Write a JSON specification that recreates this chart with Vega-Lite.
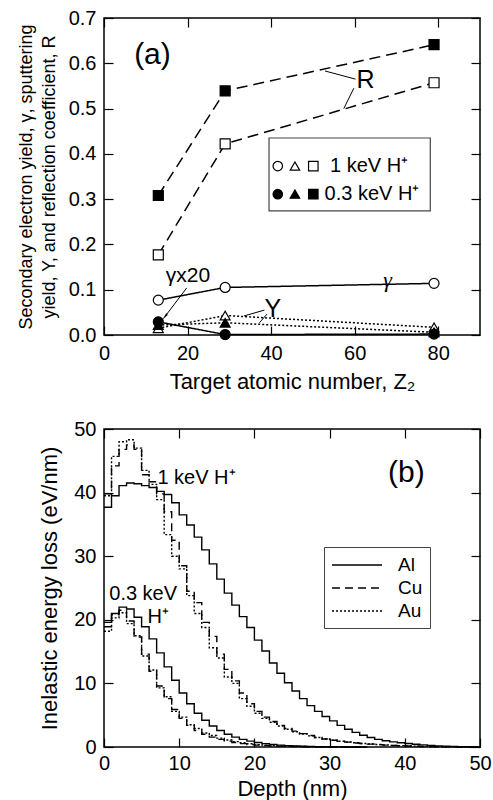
{
  "$schema": "https://vega.github.io/schema/vega-lite/v6.json",
  "padding": {"left": 16, "top": 7, "right": 0, "bottom": 0},
  "spacing": 25,
  "resolve": {"scale": {"strokeDash": "independent", "shape": "independent", "fill": "independent"}, "legend": {"strokeDash": "independent"}},
  "config": {
    "font": "Liberation Sans",
    "view": {"stroke": "black", "strokeWidth": 1.5},
    "axis": {"domain": false, "grid": false, "ticks": true, "tickSize": -9, "tickWidth": 1.2, "tickColor": "black", "labelPadding": 17, "labelFontSize": 20, "labelColor": "black", "labelFont": "Liberation Sans", "labelFlush": false, "labelOverlap": false, "titleFontSize": 22, "titleFontWeight": "normal", "titleColor": "black", "titleFont": "Liberation Sans"}
  },
  "datasets": {
    "a": [
      {"q": "Y", "e": "1 keV", "z": 13, "v": 0.015}, {"q": "Y", "e": "1 keV", "z": 29, "v": 0.043}, {"q": "Y", "e": "1 keV", "z": 79, "v": 0.017},
      {"q": "Y", "e": "0.3 keV", "z": 13, "v": 0.022}, {"q": "Y", "e": "0.3 keV", "z": 29, "v": 0.027}, {"q": "Y", "e": "0.3 keV", "z": 79, "v": 0.006},
      {"q": "R", "e": "1 keV", "z": 13, "v": 0.177}, {"q": "R", "e": "1 keV", "z": 29, "v": 0.422}, {"q": "R", "e": "1 keV", "z": 79, "v": 0.557},
      {"q": "R", "e": "0.3 keV", "z": 13, "v": 0.308}, {"q": "R", "e": "0.3 keV", "z": 29, "v": 0.539}, {"q": "R", "e": "0.3 keV", "z": 79, "v": 0.641},
      {"q": "γ", "e": "1 keV", "z": 13, "v": 0.077}, {"q": "γ", "e": "1 keV", "z": 29, "v": 0.105}, {"q": "γ", "e": "1 keV", "z": 79, "v": 0.114},
      {"q": "γ", "e": "0.3 keV", "z": 13, "v": 0.029}, {"q": "γ", "e": "0.3 keV", "z": 29, "v": 0.001}, {"q": "γ", "e": "0.3 keV", "z": 79, "v": 0.002}
    ],
    "b": [
      {"m":"Al","e":"1","d":0,"v":37.7},{"m":"Al","e":"1","d":1,"v":39.5},{"m":"Al","e":"1","d":2,"v":41.1},{"m":"Al","e":"1","d":3,"v":41.5},{"m":"Al","e":"1","d":4,"v":41.4},{"m":"Al","e":"1","d":5,"v":41.1},{"m":"Al","e":"1","d":6,"v":40.8},{"m":"Al","e":"1","d":7,"v":40.2},{"m":"Al","e":"1","d":8,"v":39.7},{"m":"Al","e":"1","d":9,"v":38.4},
      {"m":"Al","e":"1","d":10,"v":36.5},{"m":"Al","e":"1","d":11,"v":34.9},{"m":"Al","e":"1","d":12,"v":33.0},{"m":"Al","e":"1","d":13,"v":31.0},{"m":"Al","e":"1","d":14,"v":28.8},{"m":"Al","e":"1","d":15,"v":26.4},{"m":"Al","e":"1","d":16,"v":24.2},{"m":"Al","e":"1","d":17,"v":22.3},{"m":"Al","e":"1","d":18,"v":20.5},{"m":"Al","e":"1","d":19,"v":18.8},
      {"m":"Al","e":"1","d":20,"v":16.8},{"m":"Al","e":"1","d":21,"v":15.1},{"m":"Al","e":"1","d":22,"v":13.2},{"m":"Al","e":"1","d":23,"v":11.6},{"m":"Al","e":"1","d":24,"v":10.1},{"m":"Al","e":"1","d":25,"v":8.8},{"m":"Al","e":"1","d":26,"v":7.6},{"m":"Al","e":"1","d":27,"v":6.5},{"m":"Al","e":"1","d":28,"v":5.6},{"m":"Al","e":"1","d":29,"v":4.8},
      {"m":"Al","e":"1","d":30,"v":4.1},{"m":"Al","e":"1","d":31,"v":3.4},{"m":"Al","e":"1","d":32,"v":2.8},{"m":"Al","e":"1","d":33,"v":2.3},{"m":"Al","e":"1","d":34,"v":1.85},{"m":"Al","e":"1","d":35,"v":1.5},{"m":"Al","e":"1","d":36,"v":1.2},{"m":"Al","e":"1","d":37,"v":0.98},{"m":"Al","e":"1","d":38,"v":0.8},{"m":"Al","e":"1","d":39,"v":0.66},
      {"m":"Al","e":"1","d":40,"v":0.54},{"m":"Al","e":"1","d":41,"v":0.43},{"m":"Al","e":"1","d":42,"v":0.33},{"m":"Al","e":"1","d":43,"v":0.25},{"m":"Al","e":"1","d":44,"v":0.18},{"m":"Al","e":"1","d":45,"v":0.12},{"m":"Al","e":"1","d":46,"v":0.08},{"m":"Al","e":"1","d":47,"v":0.05},{"m":"Al","e":"1","d":48,"v":0.03},{"m":"Al","e":"1","d":49,"v":0.02},{"m":"Al","e":"1","d":50,"v":0.02},
      {"m":"Cu","e":"1","d":0,"v":39.8},{"m":"Cu","e":"1","d":1,"v":44.2},{"m":"Cu","e":"1","d":2,"v":46.8},{"m":"Cu","e":"1","d":3,"v":47.5},{"m":"Cu","e":"1","d":4,"v":46.8},{"m":"Cu","e":"1","d":5,"v":42.8},{"m":"Cu","e":"1","d":6,"v":41.7},{"m":"Cu","e":"1","d":7,"v":39.8},{"m":"Cu","e":"1","d":8,"v":37.0},{"m":"Cu","e":"1","d":9,"v":32.5},
      {"m":"Cu","e":"1","d":10,"v":28.5},{"m":"Cu","e":"1","d":11,"v":24.5},{"m":"Cu","e":"1","d":12,"v":22.7},{"m":"Cu","e":"1","d":13,"v":19.6},{"m":"Cu","e":"1","d":14,"v":17.4},{"m":"Cu","e":"1","d":15,"v":14.6},{"m":"Cu","e":"1","d":16,"v":12.2},{"m":"Cu","e":"1","d":17,"v":10.4},{"m":"Cu","e":"1","d":18,"v":8.5},{"m":"Cu","e":"1","d":19,"v":6.8},
      {"m":"Cu","e":"1","d":20,"v":5.6},{"m":"Cu","e":"1","d":21,"v":4.7},{"m":"Cu","e":"1","d":22,"v":4.0},{"m":"Cu","e":"1","d":23,"v":3.4},{"m":"Cu","e":"1","d":24,"v":2.9},{"m":"Cu","e":"1","d":25,"v":2.5},{"m":"Cu","e":"1","d":26,"v":2.1},{"m":"Cu","e":"1","d":27,"v":1.8},{"m":"Cu","e":"1","d":28,"v":1.5},{"m":"Cu","e":"1","d":29,"v":1.25},
      {"m":"Cu","e":"1","d":30,"v":1.05},{"m":"Cu","e":"1","d":31,"v":0.9},{"m":"Cu","e":"1","d":32,"v":0.76},{"m":"Cu","e":"1","d":33,"v":0.64},{"m":"Cu","e":"1","d":34,"v":0.54},{"m":"Cu","e":"1","d":35,"v":0.45},{"m":"Cu","e":"1","d":36,"v":0.37},{"m":"Cu","e":"1","d":37,"v":0.3},{"m":"Cu","e":"1","d":38,"v":0.24},{"m":"Cu","e":"1","d":39,"v":0.19},
      {"m":"Cu","e":"1","d":40,"v":0.15},{"m":"Cu","e":"1","d":41,"v":0.11},{"m":"Cu","e":"1","d":42,"v":0.08},{"m":"Cu","e":"1","d":43,"v":0.06},{"m":"Cu","e":"1","d":44,"v":0.04},{"m":"Cu","e":"1","d":45,"v":0.03},{"m":"Cu","e":"1","d":46,"v":0.02},{"m":"Cu","e":"1","d":47,"v":0.01},{"m":"Cu","e":"1","d":48,"v":0.01},{"m":"Cu","e":"1","d":49,"v":0},{"m":"Cu","e":"1","d":50,"v":0},
      {"m":"Au","e":"1","d":0,"v":39.5},{"m":"Au","e":"1","d":1,"v":45.7},{"m":"Au","e":"1","d":2,"v":48.0},{"m":"Au","e":"1","d":3,"v":48.3},{"m":"Au","e":"1","d":4,"v":47.0},{"m":"Au","e":"1","d":5,"v":43.5},{"m":"Au","e":"1","d":6,"v":41.3},{"m":"Au","e":"1","d":7,"v":38.9},{"m":"Au","e":"1","d":8,"v":33.4},{"m":"Au","e":"1","d":9,"v":30.0},
      {"m":"Au","e":"1","d":10,"v":28.0},{"m":"Au","e":"1","d":11,"v":23.8},{"m":"Au","e":"1","d":12,"v":21.0},{"m":"Au","e":"1","d":13,"v":18.8},{"m":"Au","e":"1","d":14,"v":15.6},{"m":"Au","e":"1","d":15,"v":14.0},{"m":"Au","e":"1","d":16,"v":11.0},{"m":"Au","e":"1","d":17,"v":10.0},{"m":"Au","e":"1","d":18,"v":7.6},{"m":"Au","e":"1","d":19,"v":6.4},
      {"m":"Au","e":"1","d":20,"v":5.3},{"m":"Au","e":"1","d":21,"v":4.5},{"m":"Au","e":"1","d":22,"v":3.9},{"m":"Au","e":"1","d":23,"v":3.3},{"m":"Au","e":"1","d":24,"v":2.8},{"m":"Au","e":"1","d":25,"v":2.4},{"m":"Au","e":"1","d":26,"v":2.05},{"m":"Au","e":"1","d":27,"v":1.75},{"m":"Au","e":"1","d":28,"v":1.5},{"m":"Au","e":"1","d":29,"v":1.25},
      {"m":"Au","e":"1","d":30,"v":1.05},{"m":"Au","e":"1","d":31,"v":0.9},{"m":"Au","e":"1","d":32,"v":0.78},{"m":"Au","e":"1","d":33,"v":0.66},{"m":"Au","e":"1","d":34,"v":0.56},{"m":"Au","e":"1","d":35,"v":0.47},{"m":"Au","e":"1","d":36,"v":0.39},{"m":"Au","e":"1","d":37,"v":0.32},{"m":"Au","e":"1","d":38,"v":0.26},{"m":"Au","e":"1","d":39,"v":0.21},
      {"m":"Au","e":"1","d":40,"v":0.17},{"m":"Au","e":"1","d":41,"v":0.13},{"m":"Au","e":"1","d":42,"v":0.1},{"m":"Au","e":"1","d":43,"v":0.07},{"m":"Au","e":"1","d":44,"v":0.05},{"m":"Au","e":"1","d":45,"v":0.03},{"m":"Au","e":"1","d":46,"v":0.02},{"m":"Au","e":"1","d":47,"v":0.01},{"m":"Au","e":"1","d":48,"v":0.01},{"m":"Au","e":"1","d":49,"v":0},{"m":"Au","e":"1","d":50,"v":0},
      {"m":"Al","e":"0.3","d":0,"v":19.6},{"m":"Al","e":"0.3","d":1,"v":21.0},{"m":"Al","e":"0.3","d":2,"v":22.0},{"m":"Al","e":"0.3","d":3,"v":21.7},{"m":"Al","e":"0.3","d":4,"v":20.4},{"m":"Al","e":"0.3","d":5,"v":18.9},{"m":"Al","e":"0.3","d":6,"v":17.0},{"m":"Al","e":"0.3","d":7,"v":14.8},{"m":"Al","e":"0.3","d":8,"v":12.6},{"m":"Al","e":"0.3","d":9,"v":10.5},
      {"m":"Al","e":"0.3","d":10,"v":8.5},{"m":"Al","e":"0.3","d":11,"v":6.8},{"m":"Al","e":"0.3","d":12,"v":5.3},{"m":"Al","e":"0.3","d":13,"v":4.2},{"m":"Al","e":"0.3","d":14,"v":3.3},{"m":"Al","e":"0.3","d":15,"v":2.6},{"m":"Al","e":"0.3","d":16,"v":2.0},{"m":"Al","e":"0.3","d":17,"v":1.55},{"m":"Al","e":"0.3","d":18,"v":1.2},{"m":"Al","e":"0.3","d":19,"v":0.92},
      {"m":"Al","e":"0.3","d":20,"v":0.7},{"m":"Al","e":"0.3","d":21,"v":0.53},{"m":"Al","e":"0.3","d":22,"v":0.4},{"m":"Al","e":"0.3","d":23,"v":0.3},{"m":"Al","e":"0.3","d":24,"v":0.22},{"m":"Al","e":"0.3","d":25,"v":0.16},{"m":"Al","e":"0.3","d":26,"v":0.12},{"m":"Al","e":"0.3","d":27,"v":0.09},{"m":"Al","e":"0.3","d":28,"v":0.06},{"m":"Al","e":"0.3","d":29,"v":0.04},
      {"m":"Al","e":"0.3","d":30,"v":0.03},{"m":"Al","e":"0.3","d":31,"v":0.02},{"m":"Al","e":"0.3","d":32,"v":0.01},{"m":"Al","e":"0.3","d":33,"v":0.01},{"m":"Al","e":"0.3","d":34,"v":0},{"m":"Al","e":"0.3","d":35,"v":0},
      {"m":"Cu","e":"0.3","d":0,"v":18.9},{"m":"Cu","e":"0.3","d":1,"v":20.8},{"m":"Cu","e":"0.3","d":2,"v":21.5},{"m":"Cu","e":"0.3","d":3,"v":19.8},{"m":"Cu","e":"0.3","d":4,"v":17.3},{"m":"Cu","e":"0.3","d":5,"v":14.6},{"m":"Cu","e":"0.3","d":6,"v":11.9},{"m":"Cu","e":"0.3","d":7,"v":9.6},{"m":"Cu","e":"0.3","d":8,"v":7.6},{"m":"Cu","e":"0.3","d":9,"v":5.9},
      {"m":"Cu","e":"0.3","d":10,"v":4.5},{"m":"Cu","e":"0.3","d":11,"v":3.4},{"m":"Cu","e":"0.3","d":12,"v":2.6},{"m":"Cu","e":"0.3","d":13,"v":2.0},{"m":"Cu","e":"0.3","d":14,"v":1.55},{"m":"Cu","e":"0.3","d":15,"v":1.2},{"m":"Cu","e":"0.3","d":16,"v":0.92},{"m":"Cu","e":"0.3","d":17,"v":0.7},{"m":"Cu","e":"0.3","d":18,"v":0.53},{"m":"Cu","e":"0.3","d":19,"v":0.4},
      {"m":"Cu","e":"0.3","d":20,"v":0.3},{"m":"Cu","e":"0.3","d":21,"v":0.23},{"m":"Cu","e":"0.3","d":22,"v":0.17},{"m":"Cu","e":"0.3","d":23,"v":0.13},{"m":"Cu","e":"0.3","d":24,"v":0.1},{"m":"Cu","e":"0.3","d":25,"v":0.07},{"m":"Cu","e":"0.3","d":26,"v":0.05},{"m":"Cu","e":"0.3","d":27,"v":0.04},{"m":"Cu","e":"0.3","d":28,"v":0.03},{"m":"Cu","e":"0.3","d":29,"v":0.02},
      {"m":"Cu","e":"0.3","d":30,"v":0.01},{"m":"Cu","e":"0.3","d":31,"v":0},{"m":"Cu","e":"0.3","d":32,"v":0},{"m":"Cu","e":"0.3","d":33,"v":0},{"m":"Cu","e":"0.3","d":34,"v":0},{"m":"Cu","e":"0.3","d":35,"v":0},
      {"m":"Au","e":"0.3","d":0,"v":18.2},{"m":"Au","e":"0.3","d":1,"v":20.3},{"m":"Au","e":"0.3","d":2,"v":21.1},{"m":"Au","e":"0.3","d":3,"v":19.4},{"m":"Au","e":"0.3","d":4,"v":17.5},{"m":"Au","e":"0.3","d":5,"v":14.3},{"m":"Au","e":"0.3","d":6,"v":12.1},{"m":"Au","e":"0.3","d":7,"v":9.3},{"m":"Au","e":"0.3","d":8,"v":7.9},{"m":"Au","e":"0.3","d":9,"v":5.6},
      {"m":"Au","e":"0.3","d":10,"v":4.7},{"m":"Au","e":"0.3","d":11,"v":3.5},{"m":"Au","e":"0.3","d":12,"v":2.9},{"m":"Au","e":"0.3","d":13,"v":2.2},{"m":"Au","e":"0.3","d":14,"v":1.8},{"m":"Au","e":"0.3","d":15,"v":1.4},{"m":"Au","e":"0.3","d":16,"v":1.1},{"m":"Au","e":"0.3","d":17,"v":0.85},{"m":"Au","e":"0.3","d":18,"v":0.66},{"m":"Au","e":"0.3","d":19,"v":0.5},
      {"m":"Au","e":"0.3","d":20,"v":0.38},{"m":"Au","e":"0.3","d":21,"v":0.29},{"m":"Au","e":"0.3","d":22,"v":0.22},{"m":"Au","e":"0.3","d":23,"v":0.17},{"m":"Au","e":"0.3","d":24,"v":0.13},{"m":"Au","e":"0.3","d":25,"v":0.1},{"m":"Au","e":"0.3","d":26,"v":0.07},{"m":"Au","e":"0.3","d":27,"v":0.05},{"m":"Au","e":"0.3","d":28,"v":0.04},{"m":"Au","e":"0.3","d":29,"v":0.03},
      {"m":"Au","e":"0.3","d":30,"v":0.02},{"m":"Au","e":"0.3","d":31,"v":0.01},{"m":"Au","e":"0.3","d":32,"v":0},{"m":"Au","e":"0.3","d":33,"v":0},{"m":"Au","e":"0.3","d":34,"v":0},{"m":"Au","e":"0.3","d":35,"v":0}
    ]
  },
  "vconcat": [
    {
      "width": 376,
      "height": 317,
      "resolve": {"axis": {"x": "independent", "y": "independent"}},
      "layer": [
        {
          "data": {"values": [{"x": 39.5, "x2": 78.1, "y": 0.435, "y2": 0.274}]},
          "mark": {"type": "rect", "fill": "white", "stroke": "#444", "strokeWidth": 1.2},
          "encoding": {
            "x": {"field": "x", "type": "quantitative", "scale": {"domain": [0, 90], "nice": false}, "axis": null},
            "x2": {"field": "x2"},
            "y": {"field": "y", "type": "quantitative", "scale": {"domain": [0, 0.7], "nice": false}, "axis": null},
            "y2": {"field": "y2"}
          }
        },
        {
          "data": {"name": "a"},
          "mark": {"type": "line", "color": "black", "strokeWidth": 1.5},
          "encoding": {
            "x": {"field": "z", "type": "quantitative", "scale": {"domain": [0, 90], "nice": false}, "axis": {"values": [0, 20, 40, 60, 80], "title": "Target atomic number, Z₂", "titlePadding": 8}},
            "y": {"field": "v", "type": "quantitative", "scale": {"domain": [0, 0.7], "nice": false}, "axis": {"values": [0, 0.1, 0.2, 0.3, 0.4, 0.5, 0.6, 0.7], "format": ".1f", "title": ["Secondary electron yield, γ, sputtering", "yield, Y, and reflection coefficient, R"], "titleFontSize": 18, "titleLineHeight": 23, "titlePadding": 10}},
            "strokeDash": {"field": "q", "type": "nominal", "scale": {"domain": ["R", "γ", "Y"], "range": [[11, 6], [1, 0], [2, 2]]}, "legend": null},
            "detail": {"field": "e", "type": "nominal"}
          }
        },
        {
          "data": {"name": "a"},
          "mark": {"type": "point", "filled": true, "opacity": 1, "stroke": "black", "strokeWidth": 1.2, "size": 100},
          "encoding": {
            "x": {"field": "z", "type": "quantitative", "scale": {"domain": [0, 90], "nice": false}, "axis": null},
            "y": {"field": "v", "type": "quantitative", "scale": {"domain": [0, 0.7], "nice": false}, "axis": null},
            "shape": {"field": "q", "type": "nominal", "scale": {"domain": ["R", "γ", "Y"], "range": ["square", "circle", "triangle-up"]}, "legend": null},
            "fill": {"field": "e", "type": "nominal", "scale": {"domain": ["1 keV", "0.3 keV"], "range": ["white", "black"]}, "legend": null}
          }
        },
        {
          "data": {"values": [
            {"q": "γ", "e": "1 keV", "x": 41.6, "y": 0.373}, {"q": "Y", "e": "1 keV", "x": 45.7, "y": 0.373}, {"q": "R", "e": "1 keV", "x": 50.1, "y": 0.373},
            {"q": "γ", "e": "0.3 keV", "x": 41.6, "y": 0.311}, {"q": "Y", "e": "0.3 keV", "x": 45.7, "y": 0.311}, {"q": "R", "e": "0.3 keV", "x": 50.1, "y": 0.311}
          ]},
          "mark": {"type": "point", "filled": true, "opacity": 1, "stroke": "black", "strokeWidth": 1.2, "size": 90},
          "encoding": {
            "x": {"field": "x", "type": "quantitative", "scale": {"domain": [0, 90], "nice": false}, "axis": null},
            "y": {"field": "y", "type": "quantitative", "scale": {"domain": [0, 0.7], "nice": false}, "axis": null},
            "shape": {"field": "q", "type": "nominal", "legend": null},
            "fill": {"field": "e", "type": "nominal", "legend": null}
          }
        },
        {
          "data": {"values": [
            {"x": 60.2, "y": 0.565, "x2": 52.9, "y2": 0.583},
            {"x": 59.8, "y": 0.545, "x2": 57.4, "y2": 0.5},
            {"x": 38.4, "y": 0.055, "x2": 33.5, "y2": 0.042},
            {"x": 39.0, "y": 0.046, "x2": 37.2, "y2": 0.027},
            {"x": 19.8, "y": 0.104, "x2": 14.7, "y2": 0.042}
          ]},
          "mark": {"type": "rule", "color": "black", "strokeWidth": 1},
          "encoding": {
            "x": {"field": "x", "type": "quantitative", "scale": {"domain": [0, 90], "nice": false}, "axis": {"orient": "top", "labels": false, "title": null, "values": [0, 20, 40, 60, 80]}},
            "x2": {"field": "x2"},
            "y": {"field": "y", "type": "quantitative", "scale": {"domain": [0, 0.7], "nice": false}, "axis": {"orient": "right", "labels": false, "title": null, "values": [0, 0.1, 0.2, 0.3, 0.4, 0.5, 0.6, 0.7]}},
            "y2": {"field": "y2"}
          }
        },
        {
          "data": {"values": [{"x": 14.7, "y": 0.042}]},
          "mark": {"type": "point", "shape": "wedge", "filled": true, "color": "black", "opacity": 1, "size": 80, "angle": 218},
          "encoding": {
            "x": {"field": "x", "type": "quantitative", "scale": {"domain": [0, 90], "nice": false}, "axis": null},
            "y": {"field": "y", "type": "quantitative", "scale": {"domain": [0, 0.7], "nice": false}, "axis": null}
          }
        },
        {
          "data": {"values": [{"t": "(a)", "x": 11.6, "y": 0.618}]},
          "mark": {"type": "text", "fontSize": 30, "color": "black", "align": "center", "baseline": "middle"},
          "encoding": {
            "x": {"field": "x", "type": "quantitative", "scale": {"domain": [0, 90], "nice": false}, "axis": null},
            "y": {"field": "y", "type": "quantitative", "scale": {"domain": [0, 0.7], "nice": false}, "axis": null},
            "text": {"field": "t"}
          }
        },
        {
          "data": {"values": [{"t": "R", "x": 62.6, "y": 0.562}, {"t": "Y", "x": 40.4, "y": 0.057}]},
          "mark": {"type": "text", "fontSize": 25, "color": "black", "align": "center", "baseline": "middle"},
          "encoding": {
            "x": {"field": "x", "type": "quantitative", "scale": {"domain": [0, 90], "nice": false}, "axis": null},
            "y": {"field": "y", "type": "quantitative", "scale": {"domain": [0, 0.7], "nice": false}, "axis": null},
            "text": {"field": "t"}
          }
        },
        {
          "data": {"values": [{"t": "γ", "x": 67.9, "y": 0.122}]},
          "mark": {"type": "text", "font": "Liberation Serif", "fontStyle": "italic", "fontSize": 22, "color": "black", "align": "center", "baseline": "middle"},
          "encoding": {
            "x": {"field": "x", "type": "quantitative", "scale": {"domain": [0, 90], "nice": false}, "axis": null},
            "y": {"field": "y", "type": "quantitative", "scale": {"domain": [0, 0.7], "nice": false}, "axis": null},
            "text": {"field": "t"}
          }
        },
        {
          "data": {"values": [{"t": "γx20", "x": 20.1, "y": 0.13}]},
          "mark": {"type": "text", "fontSize": 21, "color": "black", "align": "center", "baseline": "middle"},
          "encoding": {
            "x": {"field": "x", "type": "quantitative", "scale": {"domain": [0, 90], "nice": false}, "axis": null},
            "y": {"field": "y", "type": "quantitative", "scale": {"domain": [0, 0.7], "nice": false}, "axis": null},
            "text": {"field": "t"}
          }
        },
        {
          "data": {"values": [{"t": "1 keV H⁺", "x": 54.1, "y": 0.373}, {"t": "0.3 keV H⁺", "x": 52.8, "y": 0.311}]},
          "mark": {"type": "text", "fontSize": 20, "color": "black", "align": "left", "baseline": "middle"},
          "encoding": {
            "x": {"field": "x", "type": "quantitative", "scale": {"domain": [0, 90], "nice": false}, "axis": null},
            "y": {"field": "y", "type": "quantitative", "scale": {"domain": [0, 0.7], "nice": false}, "axis": null},
            "text": {"field": "t"}
          }
        }
      ]
    },
    {
      "width": 376,
      "height": 318,
      "resolve": {"axis": {"x": "independent", "y": "independent"}},
      "layer": [
        {
          "data": {"name": "b"},
          "mark": {"type": "line", "color": "black", "strokeWidth": 1.4, "interpolate": "step-after"},
          "encoding": {
            "x": {"field": "d", "type": "quantitative", "scale": {"domain": [0, 50], "nice": false}, "axis": {"values": [0, 10, 20, 30, 40, 50], "title": "Depth (nm)", "titlePadding": 5, "labelPadding": 15}},
            "y": {"field": "v", "type": "quantitative", "scale": {"domain": [0, 50], "nice": false}, "axis": {"values": [0, 10, 20, 30, 40, 50], "title": "Inelastic energy loss (eV/nm)", "titlePadding": 12}},
            "strokeDash": {"field": "m", "type": "nominal", "scale": {"domain": ["Al", "Cu", "Au"], "range": [[1, 0], [8, 5], [2, 2]]},
              "legend": {"orient": "none", "legendX": 220, "legendY": 118, "title": null, "symbolType": "M-1,0H4", "symbolSize": 400, "symbolStrokeWidth": 1.5, "symbolStrokeColor": "black", "labelFontSize": 19, "labelColor": "black", "labelOffset": 45, "padding": 7, "rowPadding": 2, "strokeColor": "#444", "fillColor": "white"}},
            "detail": {"field": "e", "type": "nominal"}
          }
        },
        {
          "data": {"values": [{"t": "(b)", "x": 40.2, "y": 43.1}]},
          "mark": {"type": "text", "fontSize": 30, "color": "black", "align": "center", "baseline": "middle"},
          "encoding": {
            "x": {"field": "x", "type": "quantitative", "scale": {"domain": [0, 50], "nice": false}, "axis": {"orient": "top", "labels": false, "title": null, "values": [0, 10, 20, 30, 40, 50]}},
            "y": {"field": "y", "type": "quantitative", "scale": {"domain": [0, 50], "nice": false}, "axis": {"orient": "right", "labels": false, "title": null, "values": [0, 10, 20, 30, 40, 50]}},
            "text": {"field": "t"}
          }
        },
        {
          "data": {"values": [{"t": "1 keV H⁺", "x": 7.1, "y": 42.3}, {"t": "0.3 keV", "x": 0.7, "y": 24.0}, {"t": "H⁺", "x": 5.8, "y": 20.4}]},
          "mark": {"type": "text", "fontSize": 20, "color": "black", "align": "left", "baseline": "middle"},
          "encoding": {
            "x": {"field": "x", "type": "quantitative", "scale": {"domain": [0, 50], "nice": false}, "axis": null},
            "y": {"field": "y", "type": "quantitative", "scale": {"domain": [0, 50], "nice": false}, "axis": null},
            "text": {"field": "t"}
          }
        }
      ]
    }
  ]
}
